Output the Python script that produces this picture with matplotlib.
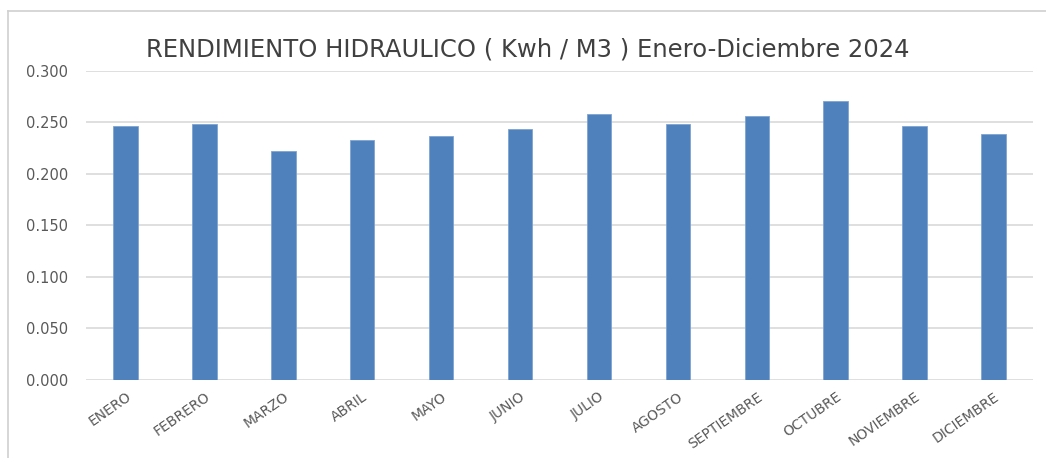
import matplotlib
matplotlib.use("Agg")
import matplotlib.pyplot as plt
from matplotlib.lines import Line2D

BLUE = "#4F81BD"
GRID = "#D9D9D9"
TXT = "#595959"

months = ["ENERO", "FEBRERO", "MARZO", "ABRIL", "MAYO", "JUNIO", "JULIO",
          "AGOSTO", "SEPTIEMBRE", "OCTUBRE", "NOVIEMBRE", "DICIEMBRE"]
rendimiento = [0.246, 0.248, 0.222, 0.233, 0.237, 0.243, 0.258,
               0.248, 0.256, 0.271, 0.246, 0.239]
yticks = [0.0, 0.05, 0.10, 0.15, 0.20, 0.25, 0.30]

plt.rcParams["font.family"] = ["DejaVu Sans"]

fig = plt.figure(figsize=(10.46, 4.58), dpi=100)
ax = fig.add_axes([86 / 1046, 1 - 380 / 458, (1033 - 86) / 1046, (380 - 70.7) / 458])

x = range(len(months))
ax.bar(x, rendimiento, width=0.31, color=BLUE, edgecolor="#7FA3D3", linewidth=0.6, zorder=3)

ax.set_xlim(-0.5, len(months) - 0.5)
ax.set_ylim(0, 0.30)
ax.set_yticks(yticks)
ax.set_yticklabels([f"{v:.3f}" for v in yticks], color=TXT, fontsize=10.5)
ax.set_xticks(list(x))
ax.set_xticklabels(months, rotation=35, ha="right", rotation_mode="anchor",
                   color=TXT, fontsize=10)
ax.tick_params(axis="both", length=0)
ax.tick_params(axis="y", pad=13)
ax.tick_params(axis="x", pad=7)
ax.grid(axis="y", color=GRID, lw=1.2, zorder=0)
for s in ax.spines.values():
    s.set_visible(False)

fig.text(528 / 1046, 1 - 50 / 458, "RENDIMIENTO HIDRAULICO ( Kwh / M3 ) Enero-Diciembre 2024",
         ha="center", va="center", fontsize=17.5, color="#404040")

# chart frame (only top and left edges visible in the original crop)
fig.add_artist(Line2D([8 / 1046, 8 / 1046], [0, 1 - 11 / 458], transform=fig.transFigure,
                      color="#D0D0D0", lw=1.2))
fig.add_artist(Line2D([8 / 1046, 1], [1 - 11 / 458, 1 - 11 / 458], transform=fig.transFigure,
                      color="#D0D0D0", lw=1.2))

fig.savefig("out.png", dpi=100)
